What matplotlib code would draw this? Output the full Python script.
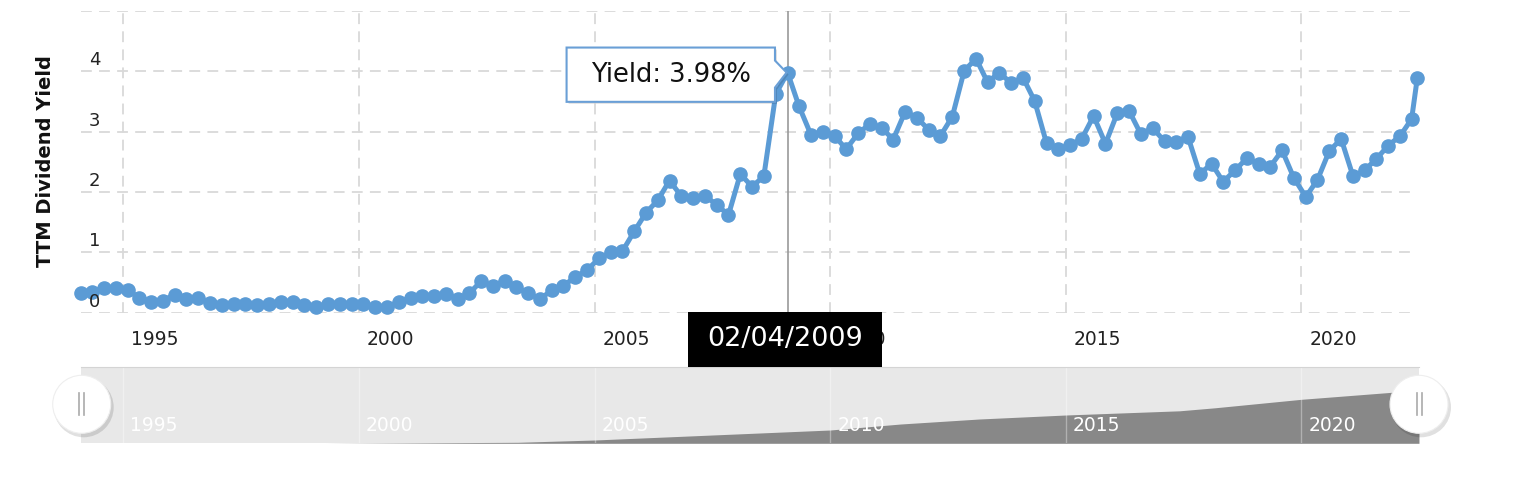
import numpy as np
import pandas as pd
import matplotlib
matplotlib.use('Agg')
import matplotlib.pyplot as plt
import matplotlib.dates as mdates
from matplotlib.patches import Polygon, Rectangle, Circle

W, H = 1514, 492

# quarterly TTM dividend yield (%), Feb 1994 .. May 2022, plus the latest reading
dates = list(pd.date_range('1994-02-04', periods=114, freq=pd.DateOffset(months=3)))
dates.append(pd.Timestamp('2022-06-17'))
yield_pct = [
    0.32, 0.35, 0.41, 0.41, 0.37, 0.25, 0.18, 0.20, 0.30, 0.22,
    0.24, 0.16, 0.13, 0.14, 0.14, 0.13, 0.14, 0.18, 0.17, 0.13,
    0.09, 0.14, 0.14, 0.14, 0.14, 0.09, 0.10, 0.17, 0.25, 0.28,
    0.28, 0.31, 0.23, 0.32, 0.52, 0.44, 0.53, 0.42, 0.32, 0.23,
    0.37, 0.45, 0.59, 0.71, 0.90, 1.00, 1.02, 1.35, 1.66, 1.86,
    2.19, 1.93, 1.90, 1.94, 1.79, 1.62, 2.30, 2.09, 2.26, 3.62,
    3.98, 3.42, 2.95, 3.00, 2.93, 2.71, 2.97, 3.13, 3.06, 2.87,
    3.33, 3.23, 3.03, 2.93, 3.25, 4.01, 4.21, 3.82, 3.98, 3.80,
    3.89, 3.51, 2.81, 2.71, 2.78, 2.88, 3.26, 2.80, 3.31, 3.35,
    2.96, 3.06, 2.84, 2.83, 2.92, 2.30, 2.47, 2.17, 2.36, 2.56,
    2.47, 2.42, 2.69, 2.23, 1.92, 2.20, 2.68, 2.88, 2.26, 2.36,
    2.55, 2.77, 2.93, 3.21, 3.89,
]

year_ticks = [1995, 2000, 2005, 2010, 2015, 2020]
y_ticks = [0, 1, 2, 3, 4]
y_grid = [0, 1, 2, 3, 4, 5]

# navigator background series (relative level, 0..76)
nav_dates = pd.to_datetime(['1994-02-04', '1999-04-15', '2003-05-15', '2005-01-01',
                            '2010-01-01', '2011-07-01', '2013-03-01', '2015-01-01',
                            '2017-06-01', '2018-03-01', '2020-01-01', '2021-12-01',
                            '2022-06-30'])
nav_level = [0, 0, 1, 3.3, 13.3, 19.3, 24.3, 28.3, 32.5, 35.5, 44, 51, 53]

hover_idx = 60
hover_label = 'Yield: 3.98%'
hover_date = '02/04/2009'

blue = '#5b9bd5'
grid_c = '#d9d9d9'
dash = (0, (6, 4))

plt.rcParams['font.family'] = ['DejaVu Sans']
fig = plt.figure(figsize=(W / 100, H / 100), dpi=100)

date_num = mdates.date2num(dates)
year_num = [mdates.date2num(pd.Timestamp(f'{yr}-01-01')) for yr in year_ticks]

# ---- main chart
ax = fig.add_axes([80.7 / W, 1 - 312.7 / H, (1417.3 - 80.7) / W, (312.7 - 11) / H])
ax.set_xlim(date_num[0], date_num[-1])
ax.set_ylim(0, 5)
for s in ax.spines.values():
    s.set_visible(False)
ax.set_xticks([])
ax.set_yticks([])

for v in y_grid:
    ax.axhline(v, color=grid_c, lw=1.3, ls=dash, zorder=0)
for d in year_num:
    ax.axvline(d, color=grid_c, lw=1.3, ls=dash, zorder=0)

# crosshair
ax.axvline(date_num[hover_idx], color='#999999', lw=1.2, zorder=1)

ax.plot(date_num, yield_pct, color=blue, lw=3.6, marker='o', ms=9.5,
        mec=blue, clip_on=False, zorder=3)

for v in y_ticks:
    ax.annotate(str(v), xy=(0, v), xycoords=ax.get_yaxis_transform(),
                xytext=(14, 11), textcoords='offset pixels',
                ha='center', va='center', fontsize=13, color='#222222')
for yr, d in zip(year_ticks, year_num):
    ax.annotate(str(yr), xy=(d, 0), xycoords=ax.get_xaxis_transform(),
                xytext=(8, -27), textcoords='offset pixels',
                ha='left', va='center', fontsize=13.5, color='#222222')

fig.text(46 / W, 1 - 161.5 / H, 'TTM Dividend Yield', rotation=90,
         ha='center', va='center', fontsize=14, fontweight='bold', color='#111111')

# ---- navigator
x0, x1 = date_num[0], date_num[-1]
per_px = (x1 - x0) / (1417.3 - 80.7)
nav = fig.add_axes([81 / W, 1 - 443.3 / H, (1419 - 81) / W, (443.3 - 367.3) / H])
nav.set_xlim(x0 + (81 - 80.7) * per_px, x0 + (1419 - 80.7) * per_px)
nav.set_ylim(0, 76)
nav.set_facecolor('#e8e8e8')
nav.fill_between(mdates.date2num(nav_dates), 0, nav_level, color='#888888', lw=0)
nav.set_xticks([])
nav.set_yticks([])
for k, s in nav.spines.items():
    s.set_visible(k == 'top')
nav.spines['top'].set_color('#d4d4d4')
for yr, d in zip(year_ticks, year_num):
    nav.axvline(d, color='white', lw=1, alpha=0.35)
    nav.annotate(str(yr), xy=(d, 0), xycoords=nav.get_xaxis_transform(),
                 xytext=(7, 18), textcoords='offset pixels',
                 ha='left', va='center', fontsize=13.5, color='white')

# ---- overlay in pixel coordinates (tooltip, date flag, handles)
ov = fig.add_axes([0, 0, 1, 1], zorder=10)
ov.set_xlim(0, W)
ov.set_ylim(0, H)
ov.axis('off')
ov.patch.set_alpha(0)

px, py = ax.transData.transform((date_num[hover_idx], yield_pct[hover_idx]))
left, right = px - 221, px - 12.6
top, bottom = py + 25, py - 29.3
verts = [(left, top), (right, top), (right, py + 12), (px - 1, py),
         (right, py - 15), (right, bottom), (left, bottom)]
shadow = [(x + 2, y - 2) for x, y in verts]
ov.add_patch(Polygon(shadow, closed=True, fc='#000000', alpha=0.12, lw=0))
ov.add_patch(Polygon(verts, closed=True, fc='white', ec='#6a9fd6', lw=1.5))
ov.text((left + right) / 2, (top + bottom) / 2, hover_label, ha='center', va='center',
        fontsize=18.5, color='#111111')

ax_bottom = ax.transAxes.transform((0, 0))[1]
fw, fh = 193.3, 55
fx = px - 2.6 - fw / 2
fy = ax_bottom + 1 - fh
ov.add_patch(Rectangle((fx, fy), fw, fh, fc='black', ec='none'))
ov.text(fx + fw / 2, fy + fh / 2, hover_date, ha='center', va='center',
        fontsize=19.5, color='white')

nb = nav.get_position()
hy = (nb.y0 + nb.y1) / 2 * H + 1
for hx in (nb.x0 * W + 0.7, nb.x1 * W):
    ov.add_patch(Circle((hx + 2, hy - 3), 30, fc='black', alpha=0.12, lw=0))
    ov.add_patch(Circle((hx, hy), 29, fc='white', ec='#eeeeee', lw=0.8))
    for dx in (-2.5, 2.5):
        ov.plot([hx + dx, hx + dx], [hy - 11, hy + 11], color='#aaaaaa', lw=1.2)

fig.savefig('out.png', dpi=100)
